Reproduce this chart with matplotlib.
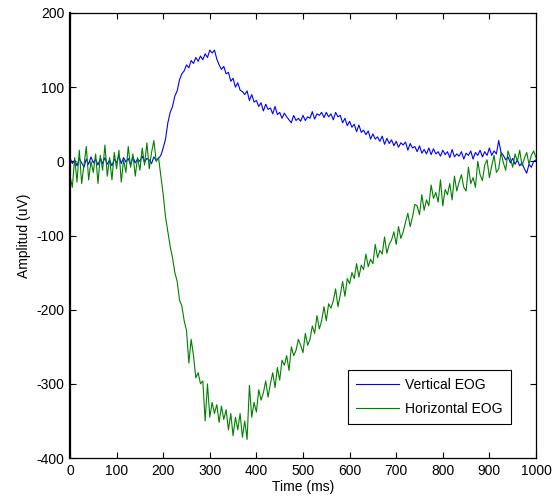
import numpy as np
import matplotlib
matplotlib.use('Agg')
import matplotlib.pyplot as plt

plt.rcParams['font.family'] = ['Liberation Sans', 'DejaVu Sans']
plt.rcParams['axes.unicode_minus'] = False

# time axis: one sample every 5 ms
time_ms = np.arange(0, 1001, 5)

vertical_eog = [
    5, -3, 2, -6, 4, -2, -8, 3, -4, 6,
    -2, 3, -5, 4, -3, 5, -4, 2, -6, 3,
    -2, 8, -3, 5, -1, 4, -5, 6, -2, 3,
    0, 7, -1, 4, 2, -3, 6, 1, 4, 8,
    18, 30, 52, 66, 74, 88, 95, 110, 118, 122,
    130, 126, 136, 132, 140, 135, 142, 137, 145, 140,
    150, 146, 150, 138, 130, 124, 128, 118, 120, 108,
    112, 100, 106, 96, 94, 90, 95, 82, 90, 80,
    82, 74, 79, 68, 77, 70, 72, 64, 74, 63,
    66, 58, 65, 60, 56, 52, 62, 55, 58, 54,
    62, 55, 60, 58, 67, 57, 64, 62, 66, 59,
    66, 60, 64, 56, 66, 60, 62, 52, 58, 48,
    54, 46, 50, 40, 49, 39, 42, 36, 41, 30,
    37, 30, 33, 27, 34, 23, 31, 24, 29, 21,
    27, 19, 25, 22, 26, 15, 24, 18, 20, 13,
    21, 11, 16, 10, 18, 9, 17, 10, 13, 7,
    15, 9, 13, 5, 16, 6, 10, 7, 13, 3,
    11, 8, 14, 3, 12, 8, 15, 6, 13, 8,
    18, 8, 14, 10, 28, 12, 8, 2, 6, -2,
    4, -4, 2, -6, -2, -10, -16, -4, -8, 0,
    2,
]

horizontal_eog = [
    -20, -35, 5, -28, 15, -30, -5, 20, -25, 0,
    -15, 10, -30, 8, -12, 22, -20, 5, -25, 12,
    -10, 15, -28, 2, -15, 20, -8, 10, -20, 5,
    -12, 18, -5, 25, -10, 12, 28, 0, 5, -20,
    -45, -75, -95, -115, -130, -150, -162, -187, -195, -215,
    -228, -272, -240, -262, -292, -285, -300, -296, -350, -300,
    -345, -325, -340, -328, -352, -330, -348, -335, -362, -340,
    -370, -345, -362, -340, -372, -350, -375, -302, -345, -325,
    -338, -308, -322, -312, -296, -318, -300, -285, -305, -278,
    -295, -268, -275, -262, -282, -250, -262, -255, -240, -248,
    -258, -232, -248, -240, -222, -232, -208, -226, -215, -196,
    -215, -192, -198, -188, -172, -196, -180, -162, -182, -158,
    -165, -150, -158, -138, -156, -140, -146, -125, -142, -132,
    -138, -112, -130, -120, -125, -102, -124, -112, -106, -95,
    -112, -88, -104, -95, -82, -70, -88, -75, -58, -60,
    -72, -45, -66, -52, -60, -32, -50, -42, -55, -25,
    -60, -38, -45, -30, -52, -20, -40, -28, -18, -35,
    -40, -8, -30, -22, -35, 0, -18, -26, -5, 2,
    -22, -6, 8, -15, -10, 12, -2, -12, 14, 4,
    -8, 10, 0, 15, -6, 4, 12, -4, 8, 14,
    5,
]

fig = plt.figure(figsize=(5.59, 5.03), dpi=100)
ax = fig.add_axes([70/559, 1 - 458/503, 466/559, 445/503])

ax.plot(time_ms, vertical_eog, color=(0, 0, 1), lw=0.8, label='Vertical EOG')
ax.plot(time_ms, horizontal_eog, color=(0, 0.5, 0), lw=0.8, label='Horizontal EOG')

ax.set_xlim(0, 1000)
ax.set_ylim(-400, 200)
ax.set_xticks(np.arange(0, 1001, 100))
ax.set_yticks(np.arange(-400, 201, 100))
ax.tick_params(direction='in', top=True, right=True, length=4, width=0.8,
               labelsize=10, pad=4)
for s in ax.spines.values():
    s.set_linewidth(0.9)
ax.spines['left'].set_linewidth(1.6)

ax.set_xlabel('Time (ms)', fontsize=10, labelpad=2)
ax.set_ylabel('Amplitud (uV)', fontsize=10, labelpad=4)

leg = ax.legend(loc='lower right', bbox_to_anchor=(0.946, 0.076), fontsize=10,
                handlelength=3.1, fancybox=False, framealpha=1,
                borderpad=0.6, labelspacing=0.7, handletextpad=0.4,
                borderaxespad=0)
leg.get_frame().set_edgecolor('black')
leg.get_frame().set_linewidth(0.8)

fig.savefig('out.png', dpi=100)
